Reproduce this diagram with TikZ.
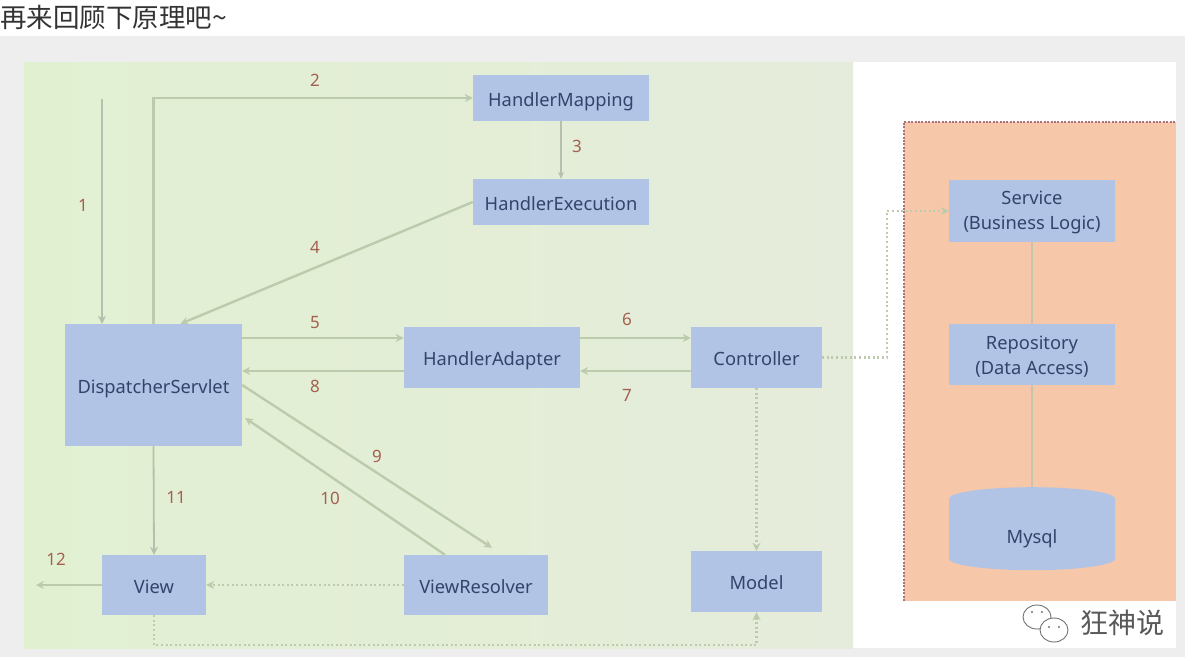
\documentclass[tikz,border=0pt]{standalone}
\usepackage{fontspec}
\setmainfont{Noto Sans}
\newfontfamily\cjkfont{Noto Sans CJK SC}
\usetikzlibrary{arrows.meta,calc,positioning,shapes.geometric}
\definecolor{ink}{HTML}{34436B}
\definecolor{boxblue}{HTML}{B1C4E6}
\definecolor{paleleft}{HTML}{E2F0D2}
\definecolor{paleright}{HTML}{E5ECDB}
\definecolor{wire}{HTML}{BCCBAC}
\definecolor{wiregrey}{HTML}{B5C0B0}
\definecolor{num}{HTML}{A5604F}
\definecolor{peach}{HTML}{F6C8A9}
\definecolor{edge}{HTML}{A8737F}
\definecolor{pagegrey}{HTML}{EEEEEE}
\tikzset{
  box/.style={fill=boxblue,text=ink,font=\fontsize{18.3}{25}\selectfont,align=center,inner sep=0pt,text height=16pt,text depth=0pt},
  dualbox/.style={fill=boxblue,text=ink,font=\fontsize{18.3}{25}\selectfont,align=center,inner sep=0pt,text height=42pt},
  numlabel/.style={text=num,font=\fontsize{17}{20}\selectfont,inner sep=0pt},
  flow/.style={->,line width=2.4pt,wire},
  thinflow/.style={->,line width=1.8pt,wiregrey},
  hairflow/.style={->,line width=1.2pt,wiregrey,>={Stealth[length=7pt,width=6pt]}},
  dotflow/.style={->,line width=2.4pt,wire,dash pattern=on 2pt off 2.6pt},
  dbline/.style={line width=2.4pt,color=wiregrey!70!peach}
}
\begin{document}
\begin{tikzpicture}[x=1pt,y=-1pt,>={Stealth[length=8pt,width=8pt]}]
\useasboundingbox (0,0) rectangle (1185,657);
% backdrop
\fill[white] (0,0) rectangle (1185,657);
\fill[pagegrey] (0,36) rectangle (1185,657);
\fill[white] (853,62) rectangle (1176,648);
\shade[left color=paleleft,right color=paleright] (24,62) rectangle (853,648);
\fill[peach] (904,122) rectangle (1176,601);
\draw[edge,line width=2pt,dash pattern=on 2pt off 1.4pt] (904,601) -- (904,122) -- (1176,122);
\node[anchor=west,inner sep=0pt,text=black!80,font=\cjkfont\fontsize{26.5}{30}\selectfont] (headline) at (0,17) {再来回顾下原理吧\textasciitilde};
% boxes
\foreach \n/\t/\x/\y/\w/\h in {hmap/HandlerMapping/561/98/176/46,hexec/HandlerExecution/561/202/176/46,dserv/DispatcherServlet/153.5/385/177/122,hadapt/HandlerAdapter/492/357.5/176/61,ctrl/Controller/756.5/357.5/131/61,vres/ViewResolver/476/585/144/60,view/View/154/585/104/60,model/Model/756.5/581.5/131/61}
  {\node[box,minimum width=\w pt,minimum height=\h pt] (\n) at (\x,\y) {\t};}
\node[dualbox,minimum width=166pt,minimum height=62pt] (svc) at (1032,211) {Service\\(Business Logic)};
\node[dualbox,minimum width=166pt,minimum height=61pt] (repo) at (1032,354.5) {Repository\\(Data Access)};
\node[box,cylinder,shape border rotate=90,aspect=.45,minimum width=166pt,minimum height=83pt] (mysql) at (1032,534.5) {\raisebox{-1pt}{Mysql}};
% free ends
\coordinate (start) at (102,99);
\coordinate (out) at (36,585);
\coordinate (bend) at (887,357.5);
\coordinate (low) at (154,645);
% connectors
\draw[thinflow] (start) -- (start |- dserv.north);
\draw[flow] (dserv.north) |- (hmap.west);
\draw[hairflow] (hmap.south) -- (hexec.north);
\draw[flow] (hexec.west) -- ([xshift=27pt]dserv.north);
\draw[flow] ([yshift=47pt]dserv.east) -- ([yshift=19.5pt]hadapt.west);
\draw[flow] ([yshift=-13.5pt]hadapt.west) -- ([yshift=14pt]dserv.east);
\draw[flow] ([yshift=19.5pt]hadapt.east) -- ([yshift=19.5pt]ctrl.west);
\draw[flow] ([yshift=-13.5pt]ctrl.west) -- ([yshift=-13.5pt]hadapt.east);
\draw[flow] (dserv.east) -- ([xshift=16pt,yshift=7pt]vres.north);
\draw[flow] ([xshift=-31pt]vres.north) -- ([xshift=3pt,yshift=-33pt]dserv.east);
\draw[thinflow] (dserv.south) -- (view.north);
\draw[flow] (view.west) -- (out);
\draw[dotflow] (vres.west) -- (view.east);
\draw[dotflow] (ctrl.east) -- (bend) |- (svc.west);
\draw[dotflow] (ctrl.south) -- (model.north);
\draw[dotflow] (view.south) -- (low) -| (model.south);
\draw[dbline] (svc.south) -- (repo.north);
\draw[dbline] (repo.south) -- (mysql.north);
% step numbers
\foreach \i/\x/\y in {1/83/205,2/315/80,3/577/146,4/315/247,5/315/323,6/627/319,7/627/395,8/315/386,9/377/456,10/330/498,11/176/497,12/56/559}
  {\node[numlabel] (step\i) at (\x,\y) {\i};}
% watermark
\draw[black!55,line width=.9pt,fill=white] (1037,617) ellipse (14pt and 12pt);
\draw[black!55,line width=.9pt,fill=white] (1054,630) ellipse (14pt and 12pt);
\foreach \x/\y in {1032/612,1042/612,1049/627,1059/627}
  {\fill[black!55] (\x,\y) circle (1.1pt);}
\node[text=black!65,inner sep=0pt,font=\cjkfont\fontsize{28}{30}\selectfont] (mark) at (1122,623) {狂神说};
\end{tikzpicture}
\end{document}
